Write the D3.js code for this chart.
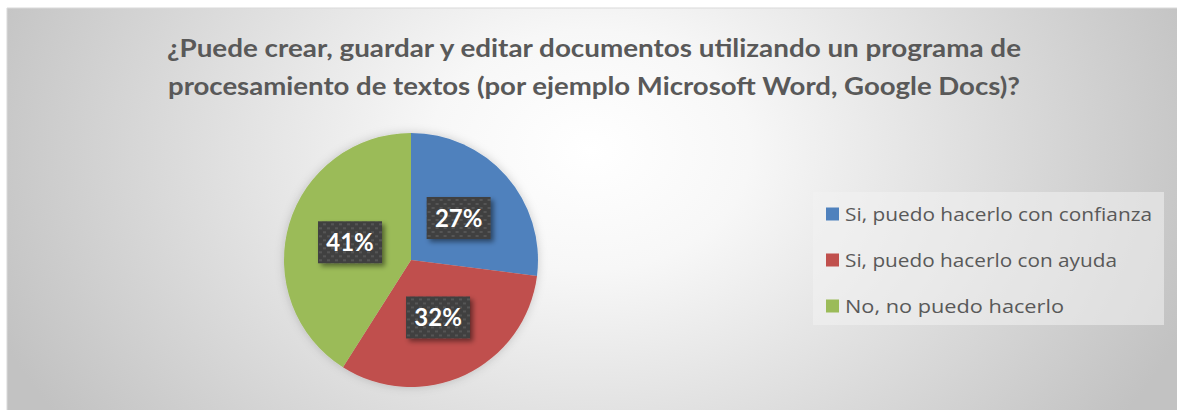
<!DOCTYPE html>
<html><head><meta charset="utf-8">
<script src="https://cdn.jsdelivr.net/npm/d3@7"></script>
<style>html,body{margin:0;padding:0;background:#fff;}svg{display:block;}</style>
</head><body>
<script>
const categories = ["Si, puedo hacerlo con confianza", "Si, puedo hacerlo con ayuda", "No, no puedo hacerlo"];
const values = [27, 32, 41];
const colors = ["#4f81bd", "#c0504d", "#9bbb59"];
const titleLines = ["¿Puede crear, guardar y editar documentos utilizando un programa de",
                    "procesamiento de textos (por ejemplo Microsoft Word, Google Docs)?"];

const W = 1177, H = 410;
const svg = d3.select("body").append("svg").attr("width", W).attr("height", H);
const defs = svg.append("defs");

const rg = defs.append("radialGradient").attr("id", "bg")
  .attr("gradientUnits", "userSpaceOnUse")
  .attr("cx", 590).attr("cy", 150).attr("r", 640)
  .attr("gradientTransform", "translate(590,150) scale(1,0.75) translate(-590,-150)");
rg.append("stop").attr("offset", 0).attr("stop-color", "#ffffff");
rg.append("stop").attr("offset", 0.25).attr("stop-color", "#f7f7f7");
rg.append("stop").attr("offset", 1).attr("stop-color", "#c2c2c2");

const pat = defs.append("pattern").attr("id", "dots").attr("patternUnits", "userSpaceOnUse")
  .attr("width", 8).attr("height", 8);
pat.append("rect").attr("width", 8).attr("height", 8).attr("fill", "#404040");
pat.append("rect").attr("x", 1).attr("y", 1).attr("width", 3).attr("height", 2).attr("fill", "#555555");
pat.append("rect").attr("x", 5).attr("y", 5).attr("width", 3).attr("height", 2).attr("fill", "#555555");

const sh = defs.append("filter").attr("id", "shadow").attr("x", "-30%").attr("y", "-30%").attr("width", "160%").attr("height", "160%");
sh.append("feDropShadow").attr("dx", 3).attr("dy", 3).attr("stdDeviation", 2.5).attr("flood-color", "#000").attr("flood-opacity", 0.45);
const ps = defs.append("filter").attr("id", "pieshadow").attr("x", "-20%").attr("y", "-20%").attr("width", "140%").attr("height", "140%");
ps.append("feDropShadow").attr("dx", 0).attr("dy", 0).attr("stdDeviation", 5).attr("flood-color", "#000").attr("flood-opacity", 0.18);

// background
svg.append("rect").attr("x", 7).attr("y", 8).attr("width", W - 7).attr("height", H - 8).attr("fill", "url(#bg)");
svg.append("line").attr("x1", 7).attr("x2", W).attr("y1", 8).attr("y2", 8).attr("stroke", "#d9d9d9");
svg.append("line").attr("x1", 7).attr("x2", 7).attr("y1", 8).attr("y2", H).attr("stroke", "#d9d9d9");

// title
svg.append("g").selectAll("text").data(titleLines).join("text")
  .attr("x", 594).attr("y", (d, i) => 57 + i * 38)
  .attr("text-anchor", "middle")
  .attr("font-family", "Lato, 'Open Sans', sans-serif")
  .attr("font-weight", "bold").attr("font-size", 25)
  .attr("fill", "#595959")
  .attr("textLength", (d, i) => i === 0 ? 854 : 852)
  .attr("lengthAdjust", "spacingAndGlyphs")
  .text(d => d);

// pie
const cx = 411, cy = 260, R = 127;
const pie = d3.pie().sort(null).value(d => d);
const arcs = pie(values);
const arc = d3.arc().innerRadius(0).outerRadius(R);
const labelArc = d3.arc().innerRadius(R * 0.5).outerRadius(R * 0.5);
const g = svg.append("g").attr("transform", `translate(${cx},${cy})`);
g.append("g").attr("filter", "url(#pieshadow)").selectAll("path").data(arcs).join("path")
  .attr("d", arc).attr("fill", (d, i) => colors[i]);

const lab = g.selectAll("g.lab").data(arcs).join("g").attr("class", "lab")
  .attr("transform", d => `translate(${labelArc.centroid(d)})`);
lab.append("rect").attr("x", -32).attr("y", -21).attr("width", 64).attr("height", 42)
  .attr("fill", "url(#dots)").attr("filter", "url(#shadow)");
lab.append("text").attr("text-anchor", "middle").attr("dy", "0.36em")
  .attr("font-family", "Lato, 'Open Sans', sans-serif").attr("font-weight", "bold")
  .attr("font-size", 24).attr("fill", "#ffffff")
  .text(d => d.data + "%");

// legend
const lg = svg.append("g");
lg.append("rect").attr("x", 813).attr("y", 192).attr("width", 351).attr("height", 133)
  .attr("fill", "#f2f2f2").attr("fill-opacity", 0.55);
const items = lg.selectAll("g.item").data(categories).join("g").attr("class", "item")
  .attr("transform", (d, i) => `translate(826,${214 + i * 46})`);
items.append("rect").attr("x", 0).attr("y", -6.5).attr("width", 13).attr("height", 13)
  .attr("fill", (d, i) => colors[i]);
items.append("text").attr("x", 19).attr("dy", "0.35em")
  .attr("font-family", "'Open Sans', Lato, sans-serif").attr("font-size", 19)
  .attr("fill", "#595959")
  .attr("textLength", (d, i) => [307, 272, 219][i])
  .attr("lengthAdjust", "spacingAndGlyphs")
  .text(d => d);
</script>
</body></html>
